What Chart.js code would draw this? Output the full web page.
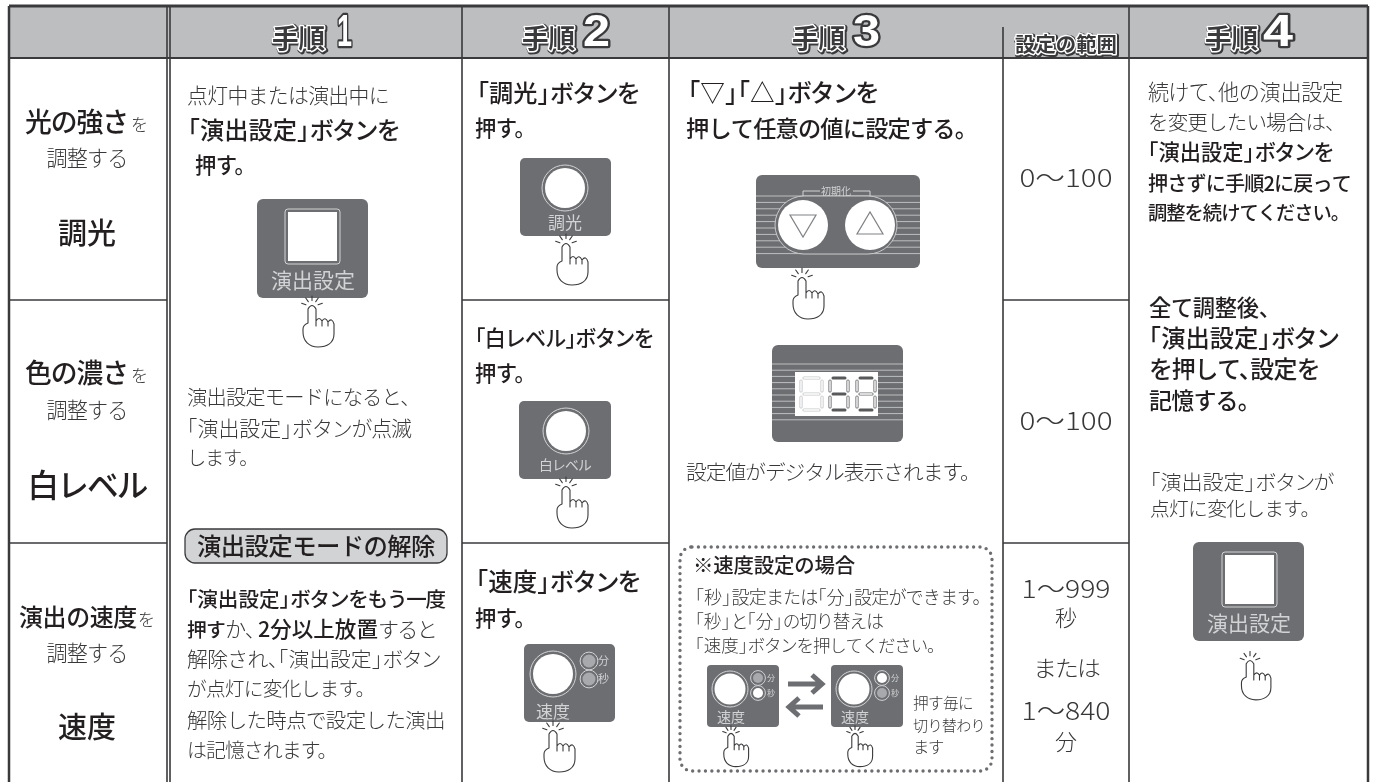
<!DOCTYPE html>
<html lang="ja">
<head>
<meta charset="utf-8">
<title>演出設定の手順</title>
<script src="https://cdn.jsdelivr.net/npm/chart.js@4"></script>
<style>
  html, body { margin: 0; padding: 0; background: #fff; }
  canvas { display: block; }
</style>
</head>
<body>
<canvas id="chart" width="1375" height="782"></canvas>
<script>
// table content
const stepLabels = ['1', '2', '3', '4'];
const stepWord = '手順';
const rangeHeading = '設定の範囲';
const rowTitles = ['光の強さ', '色の濃さ', '演出の速度'];
const rowModes = ['調光', '白レベル', '速度'];
const settingButton = '演出設定';
const rangeLabels = ['0〜100', '0〜100', '1〜999', '秒', 'または', '1〜840', '分'];
const step1Lines = ['点灯中または演出中に', '「演出設定」ボタンを', '押す。', '演出設定モードになると、', '「演出設定」ボタンが点滅', 'します。'];
const releaseTitle = '演出設定モードの解除';
const releaseLines = ['「演出設定」ボタンをもう一度', '押す', 'か、', '2分以上放置', 'すると', '解除され、「演出設定」ボタン', 'が点灯に変化します。', '解除した時点で設定した演出', 'は記憶されます。'];
const step2Lines = ['「調光」ボタンを', '「白レベル」ボタンを', '「速度」ボタンを', '押す。'];
const step3Lines = ['「▽」「△」ボタンを', '押して任意の値に設定する。', '設定値がデジタル表示されます。'];
const speedLines = ['※速度設定の場合', '「秒」設定または「分」設定ができます。', '「秒」と「分」の切り替えは', '「速度」ボタンを押してください。', '押す毎に', '切り替わり', 'ます'];
const step4Lines = ['続けて、他の演出設定', 'を変更したい場合は、', '「演出設定」ボタンを', '押さずに手順2に戻って', '調整を続けてください。', '全て調整後、', '「演出設定」ボタン', 'を押して、設定を', '記憶する。', '「演出設定」ボタンが', '点灯に変化します。'];

// table rules, in page units
const tableLeft = 9, tableRight = 1368, tableTop = 6, headerBottom = 58, tableBottom = 782;
const columnEdges = [167, 170, 462, 669, 1129];
const rangeEdge = 1003;
const rowEdges = [300, 543];
const ruledSpans = [[9, 167], [462, 669], [1003, 1129]];

const INK = '#3a3a3c', PANEL = '#6d6e71', PALE = '#d1d3d4', MID = '#a7a9ac';
const JP = '"Noto Sans CJK JP", "Noto Sans", sans-serif';

function rule(x1, y1, x2, y2, w) {
  return { data: [{ x: x1, y: y1 }, { x: x2, y: y2 }], borderColor: INK, borderWidth: w, pointRadius: 0, fill: false };
}

const datasets = [];
datasets.push(rule(tableLeft, tableTop, tableRight, tableTop, 3));
datasets.push(rule(tableLeft, tableTop, tableLeft, tableBottom, 2.5));
datasets.push(rule(tableRight, tableTop, tableRight, tableBottom, 2.5));
datasets.push(rule(tableLeft, headerBottom, tableRight, headerBottom, 2));
columnEdges.forEach(x => datasets.push(rule(x, tableTop, x, tableBottom, 1.6)));
datasets.push(rule(rangeEdge, 27, rangeEdge, tableBottom, 1.6));
rowEdges.forEach(y => ruledSpans.forEach(s => datasets.push(rule(s[0], y, s[1], y, 1.6))));
// header band goes last so it sits under the rules
datasets.push({
  data: [{ x: tableLeft, y: tableTop }, { x: tableRight, y: tableTop }],
  borderWidth: 0, pointRadius: 0, backgroundColor: '#bcbec0', fill: { value: headerBottom }
});

const artwork = {
  id: 'artwork',
  afterDatasetsDraw(chart) {
    const ctx = chart.ctx;
    const X = v => chart.scales.x.getPixelForValue(v);
    const Y = v => chart.scales.y.getPixelForValue(v);

    // canvas has no palt, so close up brackets and commas by hand, run by run
    function runsOf(str) {
      return str.split(/(?=「)|(?<=」)|(?<=、)/).map(r => {
        const kana = (r.match(/[\u3040-\u30fb\u30fd-\u30ff]/g) || []).length;
        return {
          str: r,
          spacing: -0.08 * kana / r.length,
          lead: r[0] === '「' ? -0.5 : 0,
          tail: /[」、。]$/.test(r) ? -0.48 : 0
        };
      });
    }
    function setFont(weight, size, spacing) {
      ctx.font = weight + ' ' + size + 'px ' + JP;
      ctx.letterSpacing = (spacing * size).toFixed(3) + 'px';
    }

    // w is the measured width of the line; the size follows it within limits
    function text(str, x, y, size, o) {
      o = o || {};
      const weight = o.weight || (o.bold ? 500 : 300);
      const runs = runsOf(str);
      let em = 0;
      runs.forEach(r => {
        setFont(weight, 100, r.spacing);
        r.width = ctx.measureText(r.str).width / 100 + r.lead + r.tail;
        em += r.width;
      });
      if (o.w && !o.fixed) {
        size = Math.min(size * 1.15, Math.max(size * 0.9, o.w / em));
      }
      const natural = em * size;
      const w = o.w || natural;
      ctx.save();
      ctx.fillStyle = o.color || (o.bold ? '#231f20' : '#38383a');
      ctx.textBaseline = 'middle';
      ctx.textAlign = 'left';
      ctx.translate(o.center ? X(x) - w / 2 : X(x), Y(y));
      ctx.scale(w / natural, 1);
      let pen = 0;
      runs.forEach(r => {
        setFont(weight, size, r.spacing);
        ctx.fillText(r.str, pen + r.lead * size, 0);
        pen += r.width * size;
      });
      ctx.restore();
      ctx.letterSpacing = '0px';
    }

    function box(x1, y1, x2, y2, r, fill, stroke, lw) {
      ctx.beginPath();
      ctx.roundRect(X(x1), Y(y1), X(x2) - X(x1), Y(y2) - Y(y1), r);
      if (fill) { ctx.fillStyle = fill; ctx.fill(); }
      if (stroke) { ctx.strokeStyle = stroke; ctx.lineWidth = lw || 1; ctx.stroke(); }
    }

    function disc(x, y, r, fill, stroke, lw) {
      ctx.beginPath();
      ctx.arc(X(x), Y(y), r, 0, Math.PI * 2);
      if (fill) { ctx.fillStyle = fill; ctx.fill(); }
      if (stroke) { ctx.strokeStyle = stroke; ctx.lineWidth = lw || 1; ctx.stroke(); }
    }

    function hand(cx, top, s) {
      ctx.save();
      ctx.translate(X(cx), Y(top));
      ctx.scale(s, s);
      ctx.strokeStyle = '#3a3a3c';
      ctx.lineWidth = 1.1 / s;
      ctx.lineCap = 'round';
      ctx.beginPath();
      ctx.moveTo(-4, 18); ctx.lineTo(-4, 4);
      ctx.quadraticCurveTo(0, -3, 4, 4); ctx.lineTo(4, 21);
      ctx.moveTo(4, 16); ctx.quadraticCurveTo(7, 11, 10, 16); ctx.lineTo(10, 21);
      ctx.moveTo(10, 16); ctx.quadraticCurveTo(13, 11, 16, 17); ctx.lineTo(16, 21);
      ctx.moveTo(16, 17); ctx.quadraticCurveTo(20, 12, 22, 19); ctx.lineTo(22, 29);
      ctx.bezierCurveTo(22, 38, 15, 42, 6, 42);
      ctx.bezierCurveTo(-3, 42, -9, 36, -9, 27);
      ctx.lineTo(-9, 24); ctx.quadraticCurveTo(-9, 20, -4, 18);
      ctx.stroke();
      [-90, -55, -125, -20, -160].forEach(a => {
        const c = Math.cos(a * Math.PI / 180), n = Math.sin(a * Math.PI / 180);
        ctx.beginPath();
        ctx.moveTo(c * 6.5, 2 + n * 6.5);
        ctx.lineTo(c * 11, 2 + n * 11);
        ctx.stroke();
      });
      ctx.restore();
    }

    function squareButton(x1, y1, sx1, labelX, labelY) {
      box(x1, y1, x1 + 111, y1 + 99, 6, PANEL);
      box(sx1, y1 + 10, sx1 + 55, y1 + 65, 3, null, PALE, 1);
      box(sx1 + 3, y1 + 13, sx1 + 52, y1 + 62, 0, '#fff');
      text(settingButton, labelX, labelY, 21, { center: true, color: PALE, weight: 400, w: 84 });
    }

    function roundButton(x1, y1, w, cx, cy, r) {
      box(x1, y1, x1 + w, y1 + 78, 5, PANEL);
      disc(cx, cy, r, null, PALE, 1);
      disc(cx, cy, r - 3, '#fff');
    }

    function lights(x, y1, y2, r, c1, c2, size) {
      [[y1, c1, '分'], [y2, c2, '秒']].forEach(l => {
        disc(x, l[0], r + 2.4, PANEL, PALE, 1);
        disc(x, l[0], r, l[1]);
        text(l[2], x + r + 8, l[0], size, { center: true, color: PALE, weight: 400 });
      });
    }

    // header
    function heading(str, x, w, size, y) {
      ctx.save();
      ctx.font = '700 ' + size + 'px ' + JP;
      ctx.textBaseline = 'middle';
      ctx.lineJoin = 'round';
      const m = ctx.measureText(str).width;
      ctx.translate(X(x), Y(y));
      ctx.scale(w / m, 1);
      ctx.strokeStyle = INK; ctx.lineWidth = 5;
      ctx.strokeText(str, 1, 1);
      ctx.strokeStyle = '#fff'; ctx.lineWidth = 3;
      ctx.strokeText(str, 0, 0);
      ctx.fillStyle = '#3a3a3c';
      ctx.fillText(str, 0, 0);
      ctx.restore();
    }
    function numeral(str, x, w) {
      ctx.save();
      ctx.font = '700 45px "Liberation Sans", sans-serif';
      ctx.textBaseline = 'middle';
      ctx.lineJoin = 'round';
      const m = ctx.measureText(str).width;
      ctx.translate(X(x), Y(34));
      ctx.scale(w / m, 1);
      ctx.strokeStyle = INK; ctx.lineWidth = 4.5;
      ctx.strokeText(str, 0, 0);
      ctx.fillStyle = '#fff';
      ctx.fillText(str, 0, 0);
      ctx.restore();
    }
    const wordX = [272, 522, 792, 1205];
    const numX = [337, 583, 853, 1263];
    const numW = [15, 27, 27, 30];
    stepLabels.forEach((s, i) => {
      heading(stepWord, wordX[i], 53, 26, 38);
      numeral(s, numX[i], numW[i]);
    });
    heading(rangeHeading, 1015, 102, 20, 44);

    // row titles
    text(rowTitles[0], 25, 122, 26, { bold: true, w: 103 });
    text('を', 131, 125, 17);
    text('調整する', 87, 158, 20, { center: true, w: 81 });
    text(rowModes[0], 87, 233, 29, { center: true, bold: true });
    text(rowTitles[1], 25, 373, 26, { bold: true, w: 103 });
    text('を', 131, 376, 17);
    text('調整する', 87, 410, 20, { center: true, w: 81 });
    text(rowModes[1], 87, 485, 30, { center: true, bold: true, w: 119 });
    text(rowTitles[2], 19, 617, 24, { bold: true, w: 118 });
    text('を', 138, 620, 17);
    text('調整する', 87, 653, 20, { center: true, w: 81 });
    text(rowModes[2], 87, 727, 29, { center: true, bold: true });

    // step 1
    text(step1Lines[0], 187, 95, 20, { w: 202 });
    text(step1Lines[1], 188, 130, 24, { bold: true, w: 211 });
    text(step1Lines[2], 195, 165, 24, { bold: true, w: 50 });
    squareButton(257, 199, 285, 313, 280);
    hand(312, 305, 1);
    text(step1Lines[3], 187, 397, 20, { w: 223 });
    text(step1Lines[4], 187, 428, 20, { w: 224 });
    text(step1Lines[5], 187, 458, 20, { w: 61 });
    box(185, 529, 447, 563, 10, PALE, INK, 1.3);
    text(releaseTitle, 316, 546, 24, { center: true, bold: true, w: 238 });
    text(releaseLines[0], 187, 599, 20, { bold: true, w: 258 });
    text(releaseLines[1], 187, 629, 20, { bold: true, w: 38 });
    text(releaseLines[2], 225, 629, 20, { w: 30 });
    text(releaseLines[3], 258, 629, 20, { bold: true, w: 120 });
    text(releaseLines[4], 378, 629, 20, { w: 58 });
    text(releaseLines[5], 187, 659, 20, { w: 253 });
    text(releaseLines[6], 187, 689, 20, { w: 178 });
    text(releaseLines[7], 187, 720, 20, { w: 258 });
    text(releaseLines[8], 187, 750, 20, { w: 140 });

    // step 2
    text(step2Lines[0], 477, 93, 24, { bold: true, w: 162 });
    text(step2Lines[3], 475, 128, 24, { bold: true, w: 50 });
    roundButton(520, 158, 91, 565, 188, 23);
    text(rowModes[0], 565, 223, 17, { center: true, color: PALE, weight: 400 });
    hand(566, 243, 1);
    text(step2Lines[1], 475, 338, 24, { bold: true, w: 178 });
    text(step2Lines[3], 475, 373, 24, { bold: true, w: 50 });
    roundButton(519, 401, 92, 566, 431, 23);
    text(rowModes[1], 565, 465, 15, { center: true, color: PALE, weight: 400, w: 52 });
    hand(566, 486, 1);
    text(step2Lines[2], 476, 582, 24, { bold: true, w: 164 });
    text(step2Lines[3], 475, 618, 24, { bold: true, w: 50 });
    roundButton(524, 644, 91, 553, 674, 23);
    lights(589, 661, 679, 6.5, MID, MID, 11);
    text(rowModes[2], 553, 712, 17, { center: true, color: PALE, weight: 400 });
    hand(553, 730, 1);

    // step 3
    text(step3Lines[0], 688, 93, 24, { bold: true, w: 190 });
    text(step3Lines[1], 686, 128, 24, { bold: true, w: 280 });

    // up and down panel
    box(756, 175, 920, 268, 6, PANEL);
    ctx.strokeStyle = PALE; ctx.lineWidth = 0.8;
    for (let i = 0; i < 10; i++) {
      const sy = Y(196 + i * 6.4);
      ctx.beginPath(); ctx.moveTo(X(756), sy); ctx.lineTo(X(920), sy); ctx.stroke();
    }
    box(775, 196, 897, 254, 29, PANEL, PALE, 0.9);
    disc(803, 225, 25, '#fff');
    disc(870, 225, 25, '#fff');
    ctx.strokeStyle = '#808285'; ctx.lineWidth = 1.2;
    ctx.beginPath();
    ctx.moveTo(X(790), Y(215)); ctx.lineTo(X(816), Y(215)); ctx.lineTo(X(803), Y(237)); ctx.closePath();
    ctx.moveTo(X(857), Y(234)); ctx.lineTo(X(883), Y(234)); ctx.lineTo(X(870), Y(212)); ctx.closePath();
    ctx.stroke();
    ctx.strokeStyle = PALE; ctx.lineWidth = 1;
    ctx.beginPath();
    ctx.moveTo(X(803), Y(196)); ctx.lineTo(X(803), Y(191)); ctx.lineTo(X(820), Y(191));
    ctx.moveTo(X(853), Y(191)); ctx.lineTo(X(870), Y(191)); ctx.lineTo(X(870), Y(196));
    ctx.stroke();
    text('初期化', 836, 191, 10, { center: true, color: PALE, weight: 400 });
    hand(802, 277, 1);

    // digit panel
    box(772, 345, 903, 442, 6, PANEL);
    ctx.strokeStyle = PALE; ctx.lineWidth = 0.8;
    for (let i = 0; i < 10; i++) {
      const sy = Y(364 + i * 6.2);
      ctx.beginPath(); ctx.moveTo(X(772), sy); ctx.lineTo(X(903), sy); ctx.stroke();
    }
    box(795, 372, 878, 416, 0, '#fff');
    function digit(x, w, on, off) {
      const top = 378, mid = 394, bot = 410;
      const segs = [
        [x + 3, top, x + w - 3, top], [x + 3, mid, x + w - 3, mid], [x + 3, bot, x + w - 3, bot],
        [x, top + 3, x, mid - 3], [x + w, top + 3, x + w, mid - 3],
        [x, mid + 3, x, bot - 3], [x + w, mid + 3, x + w, bot - 3]
      ];
      segs.forEach((s, i) => {
        ctx.lineCap = 'round';
        ctx.beginPath(); ctx.moveTo(X(s[0]), Y(s[1])); ctx.lineTo(X(s[2]), Y(s[3]));
        if (on.includes(i)) {
          ctx.strokeStyle = '#58595b'; ctx.lineWidth = 3; ctx.stroke();
        } else {
          ctx.strokeStyle = off; ctx.lineWidth = 3.2; ctx.stroke();
          ctx.strokeStyle = '#fff'; ctx.lineWidth = 1.4; ctx.stroke();
        }
      });
    }
    digit(801, 21, [], '#c7c8ca');
    digit(830, 18, [0, 1, 2], '#6d6e71');
    digit(857, 18, [0, 2], '#6d6e71');
    ctx.lineCap = 'butt';
    text(step3Lines[2], 686, 472, 20, { w: 284 });

    // speed note
    ctx.save();
    ctx.setLineDash([0, 6.4]);
    ctx.lineCap = 'round';
    box(680, 547, 992, 771, 12, null, '#6d6e71', 3.4);
    ctx.restore();
    text(speedLines[0], 693, 565, 20, { bold: true, w: 162 });
    text(speedLines[1], 695, 597, 17, { w: 286 });
    text(speedLines[2], 695, 621, 17, { w: 188 });
    text(speedLines[3], 695, 645, 17, { w: 240 });
    [[707, MID, '#fff'], [831, '#fff', MID]].forEach(b => {
      box(b[0], 665, b[0] + 72, 727, 4, PANEL);
      disc(b[0] + 23, 689, 18, null, PALE, 1);
      disc(b[0] + 23, 689, 15.5, '#fff');
      lights(b[0] + 51, 678, 693, 5, b[1], b[2], 8);
      text(rowModes[2], b[0] + 24, 717, 14, { center: true, color: PALE, weight: 400 });
      hand(b[0] + 24, 733, 0.8);
    });
    ctx.strokeStyle = PANEL; ctx.lineWidth = 5;
    ctx.lineCap = 'butt'; ctx.lineJoin = 'miter';
    ctx.beginPath();
    ctx.moveTo(X(788), Y(684)); ctx.lineTo(X(820), Y(684));
    ctx.moveTo(X(812), Y(675)); ctx.lineTo(X(822), Y(684)); ctx.lineTo(X(812), Y(693));
    ctx.moveTo(X(823), Y(707)); ctx.lineTo(X(791), Y(707));
    ctx.moveTo(X(799), Y(698)); ctx.lineTo(X(789), Y(707)); ctx.lineTo(X(799), Y(716));
    ctx.stroke();
    text(speedLines[4], 913, 703, 15, { w: 60 });
    text(speedLines[5], 913, 725, 15, { w: 72 });
    text(speedLines[6], 913, 747, 15, { w: 30 });

    // range column
    const rangeY = [177, 420, 588, 618, 668, 710, 742];
    const rangeSize = [25, 25, 25, 22, 22, 25, 22];
    const rangeW = [93, 93, 89, 22, 66, 89, 22];
    rangeLabels.forEach((s, i) => {
      text(s, 1066, rangeY[i], rangeSize[i], { center: true, fixed: true, w: rangeW[i] });
    });

    // step 4
    const step4Y = [92, 122, 152, 183, 213];
    const step4W = [195, 187, 185, 203, 192];
    step4Lines.slice(0, 5).forEach((s, i) => {
      text(s, 1148, step4Y[i], 19, { bold: i > 1, w: step4W[i] });
    });
    text(step4Lines[5], 1149, 308, 24, { bold: true, w: 121 });
    text(step4Lines[6], 1149, 338, 24, { bold: true, w: 189 });
    text(step4Lines[7], 1149, 369, 24, { bold: true, w: 171 });
    text(step4Lines[8], 1149, 400, 24, { bold: true, w: 100 });
    text(step4Lines[9], 1150, 482, 18, { w: 183 });
    text(step4Lines[10], 1150, 508, 18, { w: 160 });
    squareButton(1193, 542, 1222, 1249, 623);
    hand(1250, 660, 0.95);
  }
};

new Chart(document.getElementById('chart'), {
  type: 'line',
  data: { datasets },
  plugins: [artwork],
  options: {
    responsive: false,
    animation: false,
    layout: { padding: 0 },
    plugins: { legend: { display: false }, tooltip: { enabled: false } },
    elements: { line: { tension: 0 } },
    scales: {
      x: { type: 'linear', min: 0, max: 1375, display: false },
      y: { type: 'linear', min: 0, max: 782, reverse: true, display: false }
    }
  }
});
</script>
</body>
</html>
